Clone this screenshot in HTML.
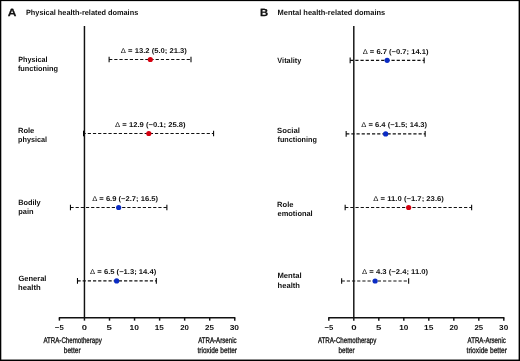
<!DOCTYPE html>
<html><head><meta charset="utf-8"><style>
html,body{margin:0;padding:0;background:#fff;}
body{width:520px;height:361px;overflow:hidden;}
svg{display:block;will-change:transform;}
text{font-family:"Liberation Sans",sans-serif;fill:#111;text-rendering:geometricPrecision;}
.ax{stroke:#111;stroke-width:1.45;}
.ci{stroke:#111;stroke-width:1.1;stroke-dasharray:3.2 1.97;}
.cap{stroke:#000;stroke-width:1.05;}
</style></head><body>
<svg width="520" height="361" viewBox="0 0 520 361">
<rect x="0" y="0" width="520" height="1.12" fill="#000"/><rect x="0" y="0" width="1.3" height="361" fill="#000"/><rect x="518.6" y="0" width="1.4" height="361" fill="#000"/><rect x="0" y="359.55" width="520" height="1.45" fill="#000"/>
<line x1="84.45" y1="26.0" x2="84.45" y2="317.75" class="ax"/>
<line x1="58.80" y1="317.75" x2="235.35" y2="317.75" class="ax"/>
<line x1="59.40" y1="317.75" x2="59.40" y2="320.65" class="ax"/>
<line x1="84.45" y1="317.75" x2="84.45" y2="320.65" class="ax"/>
<line x1="109.50" y1="317.75" x2="109.50" y2="320.65" class="ax"/>
<line x1="134.55" y1="317.75" x2="134.55" y2="320.65" class="ax"/>
<line x1="159.60" y1="317.75" x2="159.60" y2="320.65" class="ax"/>
<line x1="184.65" y1="317.75" x2="184.65" y2="320.65" class="ax"/>
<line x1="209.70" y1="317.75" x2="209.70" y2="320.65" class="ax"/>
<line x1="234.75" y1="317.75" x2="234.75" y2="320.65" class="ax"/>
<line x1="109.11" y1="59.5" x2="190.99" y2="59.5" class="ci" stroke-dashoffset="0"/>
<line x1="109.11" y1="56.70" x2="109.11" y2="62.30" class="cap"/>
<line x1="190.99" y1="56.70" x2="190.99" y2="62.30" class="cap"/>
<circle cx="150.30" cy="59.5" r="2.6" fill="#d4000f"/>
<line x1="83.50" y1="133.5" x2="213.59" y2="133.5" class="ci" stroke-dashoffset="0.9"/>
<line x1="83.50" y1="130.70" x2="83.50" y2="136.30" class="cap"/>
<line x1="213.59" y1="130.70" x2="213.59" y2="136.30" class="cap"/>
<circle cx="148.80" cy="133.5" r="2.6" fill="#d4000f"/>
<line x1="70.44" y1="207.5" x2="166.88" y2="207.5" class="ci" stroke-dashoffset="0"/>
<line x1="70.44" y1="204.70" x2="70.44" y2="210.30" class="cap"/>
<line x1="166.88" y1="204.70" x2="166.88" y2="210.30" class="cap"/>
<circle cx="118.66" cy="207.5" r="2.6" fill="#0a2bc4"/>
<line x1="77.47" y1="280.9" x2="156.33" y2="280.9" class="ci" stroke-dashoffset="0"/>
<line x1="77.47" y1="278.10" x2="77.47" y2="283.70" class="cap"/>
<line x1="156.33" y1="278.10" x2="156.33" y2="283.70" class="cap"/>
<circle cx="116.65" cy="280.9" r="2.6" fill="#0a2bc4"/>
<line x1="353.8" y1="26.0" x2="353.8" y2="317.75" class="ax"/>
<line x1="328.20" y1="317.75" x2="504.40" y2="317.75" class="ax"/>
<line x1="328.80" y1="317.75" x2="328.80" y2="320.65" class="ax"/>
<line x1="353.80" y1="317.75" x2="353.80" y2="320.65" class="ax"/>
<line x1="378.80" y1="317.75" x2="378.80" y2="320.65" class="ax"/>
<line x1="403.80" y1="317.75" x2="403.80" y2="320.65" class="ax"/>
<line x1="428.80" y1="317.75" x2="428.80" y2="320.65" class="ax"/>
<line x1="453.80" y1="317.75" x2="453.80" y2="320.65" class="ax"/>
<line x1="478.80" y1="317.75" x2="478.80" y2="320.65" class="ax"/>
<line x1="503.80" y1="317.75" x2="503.80" y2="320.65" class="ax"/>
<line x1="350.15" y1="60.35" x2="424.15" y2="60.35" class="ci" stroke-dashoffset="0"/>
<line x1="350.15" y1="57.55" x2="350.15" y2="63.15" class="cap"/>
<line x1="424.15" y1="57.55" x2="424.15" y2="63.15" class="cap"/>
<circle cx="387.15" cy="60.35" r="2.6" fill="#0a2bc4"/>
<line x1="346.15" y1="133.9" x2="425.15" y2="133.9" class="ci" stroke-dashoffset="0"/>
<line x1="346.15" y1="131.10" x2="346.15" y2="136.70" class="cap"/>
<line x1="425.15" y1="131.10" x2="425.15" y2="136.70" class="cap"/>
<circle cx="385.65" cy="133.9" r="2.6" fill="#0a2bc4"/>
<line x1="345.15" y1="207.5" x2="471.65" y2="207.5" class="ci" stroke-dashoffset="0"/>
<line x1="345.15" y1="204.70" x2="345.15" y2="210.30" class="cap"/>
<line x1="471.65" y1="204.70" x2="471.65" y2="210.30" class="cap"/>
<circle cx="408.65" cy="207.5" r="2.6" fill="#d4000f"/>
<line x1="341.65" y1="281.0" x2="408.65" y2="281.0" class="ci" stroke-dashoffset="0"/>
<line x1="341.65" y1="278.20" x2="341.65" y2="283.80" class="cap"/>
<line x1="408.65" y1="278.20" x2="408.65" y2="283.80" class="cap"/>
<circle cx="375.15" cy="281.0" r="2.6" fill="#0a2bc4"/>
<text x="7.68" y="16.00" textLength="8.63" lengthAdjust="spacingAndGlyphs" style="font-size:10.4px;font-weight:bold;stroke:#111;stroke-width:0.25px;stroke-linejoin:round">A</text>
<text x="259.97" y="16.00" textLength="8.17" lengthAdjust="spacingAndGlyphs" style="font-size:10.4px;font-weight:bold;stroke:#111;stroke-width:0.25px;stroke-linejoin:round">B</text>
<text x="25.96" y="15.00" textLength="112.29" lengthAdjust="spacingAndGlyphs" style="font-size:7.6px;font-weight:bold">Physical health-related domains</text>
<text x="277.57" y="15.00" textLength="107.64" lengthAdjust="spacingAndGlyphs" style="font-size:7.6px;font-weight:bold">Mental health-related domains</text>
<text x="18.19" y="61.80" textLength="29.23" lengthAdjust="spacingAndGlyphs" style="font-size:7.6px;font-weight:bold">Physical</text>
<text x="17.90" y="71.10" textLength="40.18" lengthAdjust="spacingAndGlyphs" style="font-size:7.6px;font-weight:bold">functioning</text>
<text x="17.91" y="133.40" textLength="16.44" lengthAdjust="spacingAndGlyphs" style="font-size:7.6px;font-weight:bold">Role</text>
<text x="18.09" y="142.40" textLength="29.01" lengthAdjust="spacingAndGlyphs" style="font-size:7.6px;font-weight:bold">physical</text>
<text x="18.19" y="204.70" textLength="22.49" lengthAdjust="spacingAndGlyphs" style="font-size:7.6px;font-weight:bold">Bodily</text>
<text x="18.19" y="214.10" textLength="15.33" lengthAdjust="spacingAndGlyphs" style="font-size:7.6px;font-weight:bold">pain</text>
<text x="18.45" y="280.80" textLength="28.01" lengthAdjust="spacingAndGlyphs" style="font-size:7.6px;font-weight:bold">General</text>
<text x="18.04" y="289.90" textLength="22.67" lengthAdjust="spacingAndGlyphs" style="font-size:7.6px;font-weight:bold">health</text>
<text x="277.36" y="62.90" textLength="23.88" lengthAdjust="spacingAndGlyphs" style="font-size:7.6px;font-weight:bold">Vitality</text>
<text x="277.06" y="133.30" textLength="22.80" lengthAdjust="spacingAndGlyphs" style="font-size:7.6px;font-weight:bold">Social</text>
<text x="277.50" y="142.40" textLength="39.31" lengthAdjust="spacingAndGlyphs" style="font-size:7.6px;font-weight:bold">functioning</text>
<text x="277.12" y="206.60" textLength="16.37" lengthAdjust="spacingAndGlyphs" style="font-size:7.6px;font-weight:bold">Role</text>
<text x="277.52" y="215.60" textLength="35.19" lengthAdjust="spacingAndGlyphs" style="font-size:7.6px;font-weight:bold">emotional</text>
<text x="277.40" y="278.10" textLength="24.28" lengthAdjust="spacingAndGlyphs" style="font-size:7.6px;font-weight:bold">Mental</text>
<text x="277.61" y="287.60" textLength="22.31" lengthAdjust="spacingAndGlyphs" style="font-size:7.6px;font-weight:bold">health</text>
<text x="120.89" y="53.00" textLength="66.00" lengthAdjust="spacingAndGlyphs" style="font-size:7.0px;font-weight:bold"><tspan style="font-weight:normal">Δ</tspan> = 13.2 (5.0; 21.3)</text>
<text x="115.13" y="127.00" textLength="70.52" lengthAdjust="spacingAndGlyphs" style="font-size:7.0px;font-weight:bold"><tspan style="font-weight:normal">Δ</tspan> = 12.9 (−0.1; 25.8)</text>
<text x="92.18" y="201.00" textLength="65.86" lengthAdjust="spacingAndGlyphs" style="font-size:7.0px;font-weight:bold"><tspan style="font-weight:normal">Δ</tspan> = 6.9 (−2.7; 16.5)</text>
<text x="90.13" y="274.00" textLength="66.12" lengthAdjust="spacingAndGlyphs" style="font-size:7.0px;font-weight:bold"><tspan style="font-weight:normal">Δ</tspan> = 6.5 (−1.3; 14.4)</text>
<text x="362.66" y="54.00" textLength="65.83" lengthAdjust="spacingAndGlyphs" style="font-size:7.0px;font-weight:bold"><tspan style="font-weight:normal">Δ</tspan> = 6.7 (−0.7; 14.1)</text>
<text x="361.32" y="127.00" textLength="65.68" lengthAdjust="spacingAndGlyphs" style="font-size:7.0px;font-weight:bold"><tspan style="font-weight:normal">Δ</tspan> = 6.4 (−1.5; 14.3)</text>
<text x="373.34" y="201.00" textLength="70.52" lengthAdjust="spacingAndGlyphs" style="font-size:7.0px;font-weight:bold"><tspan style="font-weight:normal">Δ</tspan> = 11.0 (−1.7; 23.6)</text>
<text x="362.11" y="274.00" textLength="66.06" lengthAdjust="spacingAndGlyphs" style="font-size:7.0px;font-weight:bold"><tspan style="font-weight:normal">Δ</tspan> = 4.3 (−2.4; 11.0)</text>
<text x="43.41" y="343.00" textLength="58.33" lengthAdjust="spacingAndGlyphs" style="font-size:8.2px;font-weight:normal;stroke:#111;stroke-width:0.3px;stroke-linejoin:round">ATRA-Chemotherapy</text>
<text x="63.81" y="353.30" textLength="16.79" lengthAdjust="spacingAndGlyphs" style="font-size:8.2px;font-weight:normal;stroke:#111;stroke-width:0.3px;stroke-linejoin:round">better</text>
<text x="198.15" y="343.00" textLength="38.45" lengthAdjust="spacingAndGlyphs" style="font-size:8.2px;font-weight:normal;stroke:#111;stroke-width:0.3px;stroke-linejoin:round">ATRA-Arsenic</text>
<text x="197.46" y="353.20" textLength="39.57" lengthAdjust="spacingAndGlyphs" style="font-size:8.2px;font-weight:normal;stroke:#111;stroke-width:0.3px;stroke-linejoin:round">trioxide better</text>
<text x="317.90" y="343.00" textLength="58.45" lengthAdjust="spacingAndGlyphs" style="font-size:8.2px;font-weight:normal;stroke:#111;stroke-width:0.3px;stroke-linejoin:round">ATRA-Chemotherapy</text>
<text x="338.45" y="353.30" textLength="16.17" lengthAdjust="spacingAndGlyphs" style="font-size:8.2px;font-weight:normal;stroke:#111;stroke-width:0.3px;stroke-linejoin:round">better</text>
<text x="467.52" y="343.00" textLength="38.32" lengthAdjust="spacingAndGlyphs" style="font-size:8.2px;font-weight:normal;stroke:#111;stroke-width:0.3px;stroke-linejoin:round">ATRA-Arsenic</text>
<text x="466.53" y="353.20" textLength="40.51" lengthAdjust="spacingAndGlyphs" style="font-size:8.2px;font-weight:normal;stroke:#111;stroke-width:0.3px;stroke-linejoin:round">trioxide better</text>
<text x="54.88" y="330.00" textLength="8.84" lengthAdjust="spacingAndGlyphs" style="font-size:7.2px;font-weight:bold">−5</text>
<text x="81.75" y="330.00" textLength="5.27" lengthAdjust="spacingAndGlyphs" style="font-size:7.2px;font-weight:bold">0</text>
<text x="106.60" y="330.00" textLength="5.38" lengthAdjust="spacingAndGlyphs" style="font-size:7.2px;font-weight:bold">5</text>
<text x="129.57" y="330.00" textLength="9.44" lengthAdjust="spacingAndGlyphs" style="font-size:7.2px;font-weight:bold">10</text>
<text x="154.72" y="330.00" textLength="9.10" lengthAdjust="spacingAndGlyphs" style="font-size:7.2px;font-weight:bold">15</text>
<text x="180.17" y="330.00" textLength="8.74" lengthAdjust="spacingAndGlyphs" style="font-size:7.2px;font-weight:bold">20</text>
<text x="205.00" y="330.00" textLength="8.96" lengthAdjust="spacingAndGlyphs" style="font-size:7.2px;font-weight:bold">25</text>
<text x="229.66" y="330.00" textLength="9.39" lengthAdjust="spacingAndGlyphs" style="font-size:7.2px;font-weight:bold">30</text>
<text x="324.48" y="330.00" textLength="8.82" lengthAdjust="spacingAndGlyphs" style="font-size:7.2px;font-weight:bold">−5</text>
<text x="351.28" y="330.00" textLength="5.35" lengthAdjust="spacingAndGlyphs" style="font-size:7.2px;font-weight:bold">0</text>
<text x="376.03" y="330.00" textLength="5.36" lengthAdjust="spacingAndGlyphs" style="font-size:7.2px;font-weight:bold">5</text>
<text x="399.16" y="330.00" textLength="9.16" lengthAdjust="spacingAndGlyphs" style="font-size:7.2px;font-weight:bold">10</text>
<text x="424.00" y="330.00" textLength="9.35" lengthAdjust="spacingAndGlyphs" style="font-size:7.2px;font-weight:bold">15</text>
<text x="449.49" y="330.00" textLength="8.74" lengthAdjust="spacingAndGlyphs" style="font-size:7.2px;font-weight:bold">20</text>
<text x="474.51" y="330.00" textLength="8.72" lengthAdjust="spacingAndGlyphs" style="font-size:7.2px;font-weight:bold">25</text>
<text x="499.10" y="330.00" textLength="9.12" lengthAdjust="spacingAndGlyphs" style="font-size:7.2px;font-weight:bold">30</text>
</svg>
</body></html>
